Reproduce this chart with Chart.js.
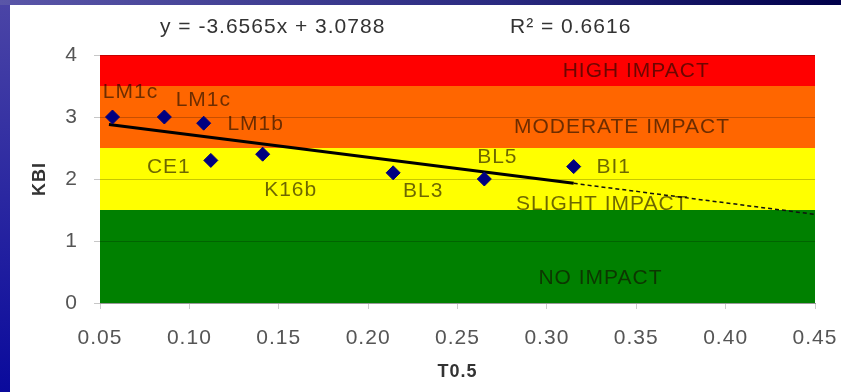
<!DOCTYPE html>
<html>
<head>
<meta charset="utf-8">
<script src="https://cdn.jsdelivr.net/npm/chart.js@4.4.1/dist/chart.umd.min.js"></script>
<style>
  html, body { margin: 0; padding: 0; }
  body {
    width: 841px; height: 392px; overflow: hidden; position: relative;
    background: linear-gradient(to bottom, #4b45a6, #0a0a9c);
  }
  .topbar {
    position: absolute; left: 0; top: 0; width: 841px; height: 5px;
    background: linear-gradient(to right, #5a56a8, #2a2a80 60%, #00004a);
  }
  .wrap {
    position: absolute; left: 10px; top: 5px; width: 831px; height: 387px;
    background: #fff;
  }
</style>
</head>
<body>
<div class="topbar"></div>
<div class="wrap"><canvas id="kbiChart" width="831" height="387"></canvas></div>
<script>
// sites and values
const sites = ["LM1c", "LM1c", "LM1b", "CE1", "K16b", "BL3", "BL5", "BI1"];
const t05 = [0.057, 0.086, 0.108, 0.112, 0.141, 0.214, 0.265, 0.315];
const kbi = [3.0, 3.0, 2.9, 2.3, 2.4, 2.1, 2.0, 2.2];

// regression line (solid part) and its extension (dashed)
const fitX = [0.055, 0.315];
const fitY = [2.88, 1.93];
const extX = [0.315, 0.45];
const extY = [1.93, 1.43];

// impact bands
const bandNames = ["NO IMPACT", "SLIGHT IMPACT", "MODERATE IMPACT", "HIGH IMPACT"];
const bandFrom = [0, 1.5, 2.5, 3.5];
const bandTo = [1.5, 2.5, 3.5, 4];

const xTicks = [0.05, 0.10, 0.15, 0.20, 0.25, 0.30, 0.35, 0.40, 0.45];
const yTicks = [0, 1, 2, 3, 4];

const equation = "y = -3.6565x + 3.0788";
const rSquared = "R\u00b2 = 0.6616";

const bandColors = ["#008000", "#ffff00", "#ff6600", "#ff0000"];
const labelInk = "rgba(20,10,0,0.62)";

Chart.defaults.font.family = "'Liberation Sans', Arial, sans-serif";

const toPoints = (xs, ys) => xs.map((x, i) => ({ x, y: ys[i] }));

// fundo com as faixas coloridas
const bandsPlugin = {
  id: "bands",
  beforeDraw(chart) {
    const { ctx, chartArea, scales } = chart;
    // texto um pouco mais largo, como no original
    ctx.letterSpacing = "1px";
    ctx.save();
    bandFrom.forEach((from, i) => {
      const top = scales.y.getPixelForValue(bandTo[i]);
      const bottom = scales.y.getPixelForValue(from);
      ctx.fillStyle = bandColors[i];
      ctx.fillRect(chartArea.left, top, chartArea.right - chartArea.left, bottom - top);
    });
    ctx.restore();
  },
};

// textos: nomes das faixas, rótulos dos pontos, equação
const textPlugin = {
  id: "texts",
  afterDatasetsDraw(chart, args, opts) {
    const { ctx, scales } = chart;
    ctx.save();
    ctx.letterSpacing = "1px";
    ctx.fillStyle = labelInk;
    ctx.textAlign = "center";
    ctx.textBaseline = "middle";
    ctx.font = "21px 'Liberation Sans', Arial, sans-serif";
    bandNames.forEach((name, i) => {
      const pos = opts.bandLabelAt[i];
      ctx.fillText(name, scales.x.getPixelForValue(pos[0]), scales.y.getPixelForValue(pos[1]));
    });
    sites.forEach((s, i) => {
      const off = opts.pointLabelOffsets[i];
      const px = scales.x.getPixelForValue(t05[i]) + off[0];
      const py = scales.y.getPixelForValue(kbi[i]) + off[1];
      ctx.fillText(s, px, py);
    });
    ctx.fillStyle = "#333";
    ctx.textAlign = "left";
    ctx.fillText(equation, 150, 22);
    ctx.fillText(rSquared, 500, 22);
    ctx.restore();
  },
};

new Chart(document.getElementById("kbiChart"), {
  type: "scatter",
  data: {
    datasets: [
      {
        label: "KBI",
        data: toPoints(t05, kbi),
        pointStyle: "rectRot",
        pointRadius: 7,
        backgroundColor: "#000080",
        borderColor: "#000080",
        order: 0,
      },
      {
        label: "fit",
        data: toPoints(fitX, fitY),
        showLine: true,
        pointRadius: 0,
        borderColor: "#000",
        borderWidth: 3,
        order: 1,
      },
      {
        label: "ext",
        data: toPoints(extX, extY),
        showLine: true,
        pointRadius: 0,
        borderColor: "#111",
        borderWidth: 1.5,
        borderDash: [4, 3],
        order: 1,
      },
    ],
  },
  options: {
    responsive: false,
    animation: false,
    layout: { padding: { top: 50, right: 26, left: 0, bottom: 0 } },
    plugins: {
      legend: { display: false },
      tooltip: { enabled: false },
      texts: {
        bandLabelAt: [[0.33, 0.4], [0.331, 1.6], [0.342, 2.84], [0.35, 3.74]],
        pointLabelOffsets: [[18, -25], [39, -17], [52, 1], [-42, 7], [28, 36], [30, 18], [13, -22], [40, 1]],
      },
    },
    scales: {
      x: {
        type: "linear",
        min: xTicks[0],
        max: xTicks[xTicks.length - 1],
        afterBuildTicks: (scale) => { scale.ticks = xTicks.map((v) => ({ value: v })); },
        afterFit: (scale) => {
          scale.height = 89;
          scale.paddingLeft = 0;
          scale.paddingRight = 0;
        },
        ticks: {
          color: "#555",
          font: { size: 21 },
          padding: 17,
          maxRotation: 0,
          callback: (v) => Number(v).toFixed(2),
        },
        grid: { drawOnChartArea: false, tickLength: 6, color: "#ccc" },
        border: { color: "#999" },
        title: { display: true, text: "T0.5", color: "#333", font: { size: 18, weight: "bold" }, padding: { bottom: 9 } },
      },
      y: {
        min: yTicks[0],
        max: yTicks[yTicks.length - 1],
        afterBuildTicks: (scale) => { scale.ticks = yTicks.map((v) => ({ value: v })); },
        afterFit: (scale) => { scale.width = 90; },
        ticks: { color: "#555", font: { size: 21 }, padding: 16 },
        grid: { color: "rgba(0,0,0,0.22)", tickLength: 6 },
        border: { display: false },
        title: { display: true, text: "KBI", color: "#333", font: { size: 18, weight: "bold" }, padding: { top: 19 } },
      },
    },
  },
  plugins: [bandsPlugin, textPlugin],
});
</script>
</body>
</html>
